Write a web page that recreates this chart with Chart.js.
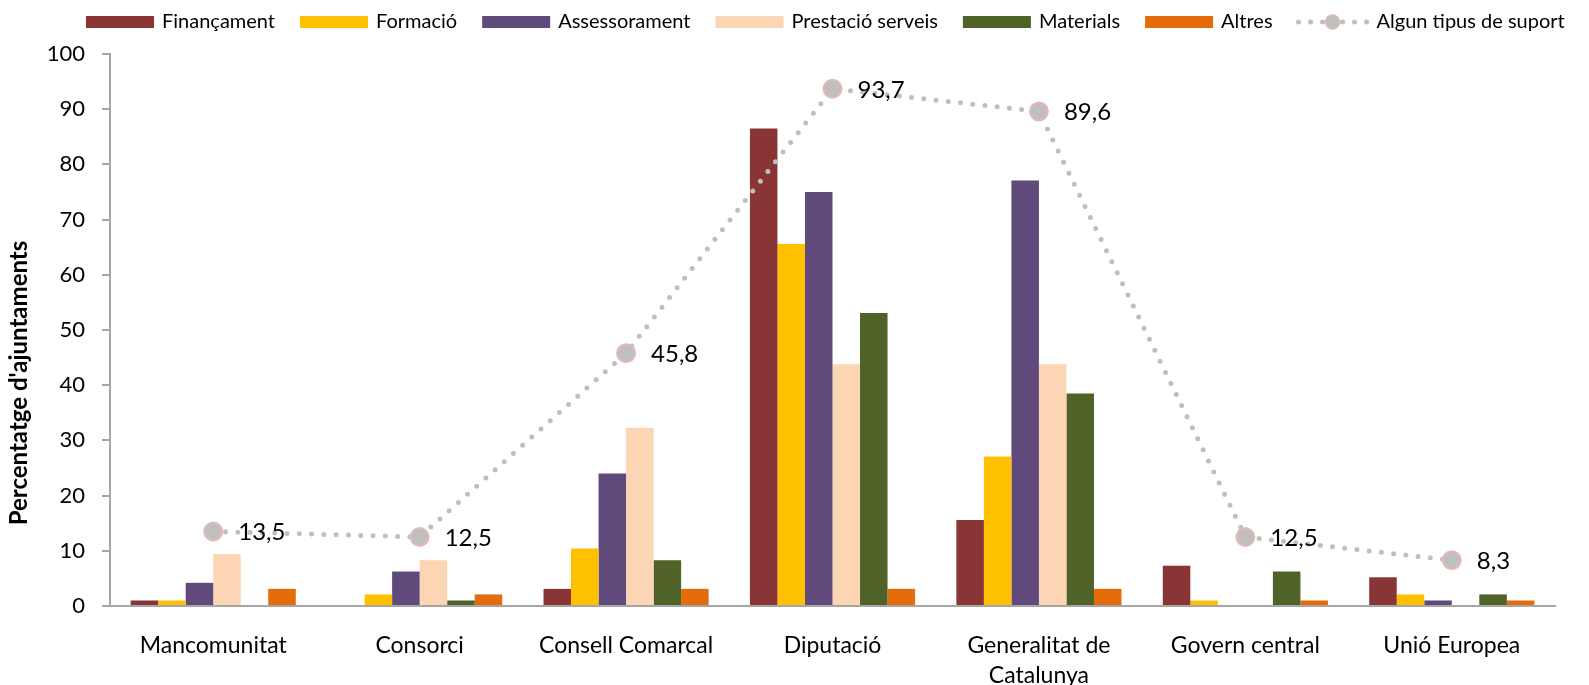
<!DOCTYPE html>
<html>
<head>
<meta charset="utf-8">
<script src="https://cdn.jsdelivr.net/npm/chart.js@4/dist/chart.umd.min.js"></script>
<style>
  html, body { margin: 0; padding: 0; background: #fff; }
  #wrap { width: 1589px; height: 685px; position: relative; }
</style>
</head>
<body>
<div id="wrap"><canvas id="c" width="1589" height="685"></canvas></div>
<script>
// ---- Data ----
const categories = ['Mancomunitat', 'Consorci', 'Consell Comarcal', 'Diputació', ['Generalitat de', 'Catalunya'], 'Govern central', 'Unió Europea'];
const financament   = [1.0, 0,    3.1, 86.5, 15.6, 7.3, 5.2];
const formacio      = [1.0, 2.1, 10.4, 65.6, 27.1, 1.0, 2.1];
const assessorament = [4.2, 6.25, 24.0, 75.0, 77.1, 0,   1.0];
const prestacio     = [9.4, 8.3, 32.3, 43.8, 43.8, 0,   0];
const materials     = [0,   1.0,  8.3, 53.1, 38.5, 6.25, 2.1];
const altres        = [3.1, 2.1,  3.1,  3.1,  3.1, 1.0, 1.0];
const algunSuport   = [13.5, 12.5, 45.8, 93.7, 89.6, 12.5, 8.3];
const yTicks = [0, 10, 20, 30, 40, 50, 60, 70, 80, 90, 100];
const seriesLabels = ['Finançament', 'Formació', 'Assessorament', 'Prestació serveis', 'Materials', 'Altres', 'Algun tipus de suport'];
const yTitle = "Percentatge d'ajuntaments";

const FONT = 'Lato, "Liberation Sans", sans-serif';
const colors = ['#893536', '#FFC000', '#604A7B', '#FCD5B5', '#4F6228', '#E46C0A'];
const lineColor = '#BFBFBF';
const pointBorder = '#E6B9B8';

const barSeries = [financament, formacio, assessorament, prestacio, materials, altres];

const datasets = barSeries.map((d, i) => ({
  type: 'bar',
  label: seriesLabels[i],
  data: d,
  backgroundColor: colors[i],
  borderWidth: 0,
  barPercentage: 1.0,
  categoryPercentage: 0.8,
  order: 1
}));
datasets.push({
  type: 'line',
  label: seriesLabels[6],
  data: algunSuport,
  borderColor: lineColor,
  borderWidth: 5,
  borderDash: [0, 12.3],
  borderCapStyle: 'round',
  pointRadius: 9,
  pointBackgroundColor: lineColor,
  pointBorderColor: pointBorder,
  pointBorderWidth: 2,
  fill: false,
  tension: 0,
  order: 0
});

const customPlugin = {
  id: 'custom',
  afterDraw(chart) {
    const ctx = chart.ctx;
    ctx.save();
    // Data labels for line
    const lineIdx = chart.data.datasets.length - 1;
    const meta = chart.getDatasetMeta(lineIdx);
    ctx.font = '24px ' + FONT;
    ctx.fillStyle = '#000';
    ctx.textAlign = 'left';
    ctx.textBaseline = 'middle';
    meta.data.forEach((pt, i) => {
      const v = chart.data.datasets[lineIdx].data[i];
      ctx.fillText(v.toFixed(1).replace('.', ','), pt.x + 25, pt.y + 1);
    });

    // Y axis title
    ctx.save();
    ctx.translate(19, 383);
    ctx.rotate(-Math.PI / 2);
    ctx.font = 'bold 24px ' + FONT;
    ctx.textAlign = 'center';
    ctx.textBaseline = 'middle';
    ctx.fillText(yTitle, 0, 0);
    ctx.restore();

    // x axis extension to the left of y axis
    const xs = chart.scales.x, ys = chart.scales.y;
    ctx.strokeStyle = '#A6A6A6';
    ctx.lineWidth = 2;
    ctx.beginPath();
    ctx.moveTo(xs.left - 8, ys.getPixelForValue(0));
    ctx.lineTo(xs.left, ys.getPixelForValue(0));
    ctx.stroke();

    // Legend
    ctx.font = '20px ' + FONT;
    ctx.textBaseline = 'middle';
    ctx.textAlign = 'left';
    let x = 86;
    const yc = 22;
    chart.data.datasets.forEach((ds, i) => {
      if (ds.type === 'bar') {
        ctx.fillStyle = ds.backgroundColor;
        ctx.fillRect(x, yc - 6, 68, 12);
        x += 68 + 8;
      } else {
        ctx.fillStyle = lineColor;
        [3, 15, 27, 47, 59, 71].forEach(dx => {
          ctx.beginPath();
          ctx.arc(x + dx - 2, yc, 2.5, 0, Math.PI * 2);
          ctx.fill();
        });
        ctx.beginPath();
        ctx.arc(x + 35, yc, 7, 0, Math.PI * 2);
        ctx.fillStyle = lineColor;
        ctx.fill();
        ctx.strokeStyle = pointBorder;
        ctx.lineWidth = 1.5;
        ctx.stroke();
        x += 71 + 8;
      }
      ctx.fillStyle = '#000';
      ctx.fillText(ds.label, x, yc);
      x += ctx.measureText(ds.label).width + 25;
    });
    ctx.restore();
  }
};

new Chart(document.getElementById('c'), {
  data: { labels: categories, datasets },
  options: {
    responsive: false,
    animation: false,
    events: [],
    layout: { padding: { top: 54, right: 34, left: 0, bottom: 0 } },
    plugins: { legend: { display: false }, tooltip: { enabled: false } },
    scales: {
      x: {
        offset: true,
        grid: { display: false },
        border: { display: true, color: '#A6A6A6', width: 2 },
        ticks: { color: '#000', font: { family: FONT, size: 23, lineHeight: 1.3 }, padding: 17, maxRotation: 0, autoSkip: false },
        afterFit(s) { s.height = 79; }
      },
      y: {
        min: 0, max: 100,
        afterBuildTicks(s) { s.ticks = yTicks.map(v => ({ value: v })); },
        grid: { display: true, drawOnChartArea: false, drawTicks: true, tickLength: 8, color: '#A6A6A6', lineWidth: 2 },
        border: { display: true, color: '#A6A6A6', width: 2 },
        ticks: { color: '#000', font: { family: FONT, size: 22 }, padding: 17 },
        afterFit(s) { s.width = 110; }
      }
    }
  },
  plugins: [customPlugin]
});
</script>
</body>
</html>
